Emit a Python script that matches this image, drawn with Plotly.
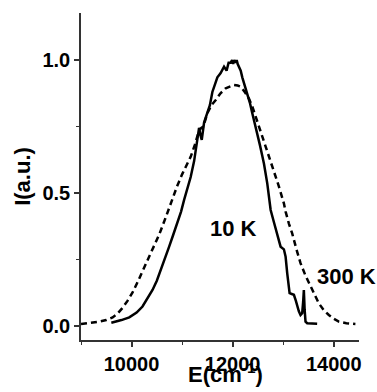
import plotly.graph_objects as go

# 10 K spectrum (solid)
e_10k = [9600, 9700, 9800, 9955, 10100, 10217, 10300, 10415, 10500, 10580, 10660, 10744,
         10820, 10908, 10980, 11040, 11100, 11170, 11238, 11303, 11336, 11360, 11389, 11435,
         11500, 11550, 11599, 11650, 11698, 11760, 11830, 11880, 11920, 11962, 11990, 12010,
         12030, 12061, 12080, 12100, 12126, 12160, 12191, 12240, 12290, 12340, 12389, 12440,
         12487, 12540, 12586, 12620, 12685, 12752, 12817, 12850, 12900, 12949, 13014, 13048,
         13080, 13127, 13170, 13212, 13250, 13277, 13310, 13343, 13376, 13395, 13409, 13425,
         13442, 13475, 13550, 13672]
i_10k = [0.012, 0.016, 0.022, 0.032, 0.05, 0.073, 0.097, 0.135, 0.17, 0.21, 0.253, 0.298,
         0.34, 0.386, 0.43, 0.474, 0.51, 0.56, 0.62, 0.70, 0.745, 0.72, 0.70, 0.765,
         0.80, 0.83, 0.88, 0.91, 0.935, 0.95, 0.975, 0.96, 0.99, 0.99, 1.0, 0.985,
         1.0, 0.99, 1.0, 0.985, 0.975, 0.96, 0.935, 0.905, 0.875, 0.84, 0.80, 0.76,
         0.73, 0.68, 0.64, 0.61, 0.536, 0.436, 0.39, 0.365, 0.33, 0.298, 0.288, 0.26,
         0.198, 0.123, 0.12, 0.117, 0.095, 0.073, 0.055, 0.041, 0.048, 0.09, 0.135, 0.06,
         0.016, 0.01, 0.009, 0.008]

# 300 K spectrum (dashed)
e_300k = [9000, 9200, 9362, 9500, 9625, 9722, 9822, 9920, 10020, 10120, 10185, 10300,
          10415, 10550, 10680, 10800, 10900, 11000, 11100, 11172, 11250, 11336,
          11380, 11420, 11500, 11580, 11666, 11760, 11863, 11950, 12027, 12100, 12159, 12240,
          12323, 12390, 12456, 12520, 12586, 12670, 12752, 12830, 12916, 13014, 13048, 13113,
          13178, 13260, 13343, 13440, 13541, 13620, 13705, 13800, 13903, 14000, 14100, 14250,
          14429]
i_300k = [0.0075, 0.011, 0.016, 0.022, 0.032, 0.046, 0.068, 0.094, 0.126, 0.165, 0.192, 0.24,
          0.286, 0.345, 0.41, 0.475, 0.525, 0.57, 0.607, 0.637, 0.68, 0.735,
          0.745, 0.75, 0.80, 0.83, 0.85, 0.875, 0.894, 0.90, 0.906, 0.904, 0.90, 0.88,
          0.855, 0.825, 0.787, 0.75, 0.715, 0.67, 0.624, 0.575, 0.524, 0.461, 0.43, 0.385,
          0.348, 0.29, 0.236, 0.19, 0.148, 0.115, 0.085, 0.06, 0.041, 0.027, 0.016, 0.01,
          0.0075]

labels = ["10 K", "300 K"]
label_x = [12020, 14257]
label_y = [0.368, 0.184]

x_title = "E(cm<sup>-1</sup>)"
y_title = "I(a.u.)"

x_range = [9000, 14500]
y_range = [-0.053, 1.177]

font_family = "Liberation Sans, Arial, sans-serif"

fig = go.Figure()
fig.add_trace(go.Scatter(x=e_300k, y=i_300k, mode="lines",
                         line=dict(color="black", width=2.5, dash="6px,4px"),
                         showlegend=False))
fig.add_trace(go.Scatter(x=e_10k, y=i_10k, mode="lines",
                         line=dict(color="black", width=2.5),
                         showlegend=False))

for t, x, y in zip(labels, label_x, label_y):
    fig.add_annotation(x=x, y=y, text=t, showarrow=False,
                       font=dict(family=font_family, size=22, color="black", weight="bold"))

# x-axis title placed below the tick labels
fig.add_annotation(x=0.518, y=-0.1, xref="paper", yref="paper", text=x_title,
                   showarrow=False, xanchor="center", yanchor="middle",
                   font=dict(family=font_family, size=22, color="black", weight="bold"))

fig.update_layout(
    width=377, height=392,
    margin=dict(l=81, r=18, t=13, b=52),
    paper_bgcolor="white", plot_bgcolor="white",
    font=dict(family=font_family, color="black"),
)
fig.update_xaxes(
    range=x_range, showgrid=False, zeroline=False, automargin=False,
    showline=True, linecolor="#333", linewidth=1.5,
    ticks="outside", ticklen=5, tickwidth=1.5, tickcolor="#333",
    dtick=2000, tick0=10000, tickformat="d",
    minor=dict(ticks="outside", ticklen=3, dtick=1000, tick0=10000, tickcolor="#333", tickwidth=1.2),
    tickfont=dict(size=20, weight="bold", family=font_family),
)
fig.update_yaxes(
    range=y_range, showgrid=False, zeroline=False, automargin=False,
    showline=True, linecolor="#333", linewidth=1.5,
    ticks="outside", ticklen=5, tickwidth=1.5, tickcolor="#333",
    dtick=0.5, tick0=0, tickformat=".1f",
    minor=dict(ticks="outside", ticklen=3, dtick=0.25, tick0=0, tickcolor="#333", tickwidth=1.2),
    tickfont=dict(size=20, weight="bold", family=font_family),
    title=dict(text=y_title, font=dict(size=22, weight="bold", family=font_family), standoff=6),
)

fig.write_html("out.html")
